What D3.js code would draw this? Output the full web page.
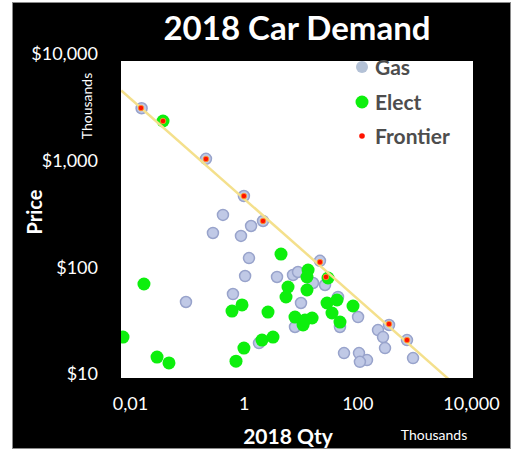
<!DOCTYPE html>
<html>
<head>
<meta charset="utf-8">
<script src="https://cdn.jsdelivr.net/npm/d3@7"></script>
<style>
  html, body { margin: 0; padding: 0; background: #fff; }
  svg { display: block; }
  text { font-family: Lato, "Open Sans", sans-serif; }
</style>
</head>
<body>
<svg id="chart" width="521" height="452"></svg>
<script>
// 2018 car demand: quantity sold (thousands) vs price (thousands of $), log-log
const gasQty   = [0.016, 0.217, 1.01, 2.19, 0.432, 0.288, 1.35, 0.897, 1.24, 1.06, 0.648, 0.0966,
                  3.86, 7.38, 9.04, 16.6, 22.0, 10.2, 8.0, 1.86, 45.7, 103, 49.5, 231, 283, 307,
                  58.3, 107, 148, 111, 955, 361, 748, 27.0];
const gasPrice = [3100, 1040, 466, 272, 310, 210, 244, 197, 122, 82.9, 56.2, 47.3,
                  81.2, 84.8, 90.4, 71.3, 115, 46.3, 27.6, 19.5, 52.7, 34.2, 27.6, 25.8, 22.2, 17.5,
                  15.7, 15.7, 13.5, 13.0, 14.1, 28.8, 20.8, 68.3];

const electQty   = [0.0381, 0.00753, 0.0176, 0.0299, 0.0485, 0.624, 0.935, 1.01, 0.733, 2.10, 2.68,
                    3.28, 4.54, 6.03, 5.56, 13.6, 13.0, 30.5, 13.0, 29.3, 43.9, 84.0, 35.8, 49.5,
                    8.0, 11.1, 16.0, 12.0];
const electPrice = [2355, 22.2, 69.8, 14.4, 12.7, 38.9, 44.4, 17.5, 13.2, 20.8, 38.1,
                    22.2, 133, 65.4, 52.7, 94.4, 81.2, 79.4, 61.3, 46.3, 49.4, 43.4, 37.3, 30.7,
                    34.2, 28.8, 33.5, 32.1];

const frontierQty   = [0.0156, 0.0381, 0.217, 1.01, 2.19, 22.0, 28.1, 361, 748];
const frontierPrice = [3118, 2355, 1037, 466, 272, 112, 81.2, 29.4, 20.8];

// fitted demand frontier (power law), end points
const fitQty   = [0.007, 4000];
const fitPrice = [4550, 9];

const xTicks = [0.01, 1, 100, 10000];
const xTickLabels = ["0,01", "1", "100", "10,000"];
const yTicks = [10, 100, 1000, 10000];
const yTickLabels = ["$10", "$100", "$1,000", "$10,000"];

const legendNames = ["Gas", "Elect", "Frontier"];

const svg = d3.select("#chart");

// dark frame
svg.append("rect")
  .attr("x", 12.5).attr("y", 2.5).attr("width", 498).attr("height", 446)
  .attr("fill", "#000").attr("stroke", "#8a8a8a").attr("stroke-width", 1);

// plot panel
const panel = { left: 121, top: 61, right: 473, bottom: 378 };
svg.append("rect")
  .attr("x", panel.left).attr("y", panel.top)
  .attr("width", panel.right - panel.left).attr("height", panel.bottom - panel.top)
  .attr("fill", "#fff");

const x = d3.scaleLog().domain([0.01, 10000]).range([130, 471]);
const y = d3.scaleLog().domain([10, 10000]).range([374, 54]);

svg.append("clipPath").attr("id", "clip")
  .append("rect")
  .attr("x", panel.left).attr("y", panel.top)
  .attr("width", panel.right - panel.left).attr("height", panel.bottom - panel.top);

const plot = svg.append("g").attr("clip-path", "url(#clip)");

const gas = gasQty.map((q, i) => ({ q, p: gasPrice[i] }));
const elect = electQty.map((q, i) => ({ q, p: electPrice[i] }));
const frontier = frontierQty.map((q, i) => ({ q, p: frontierPrice[i] }));
const fit = fitQty.map((q, i) => ({ q, p: fitPrice[i] }));

plot.append("g").selectAll("circle").data(gas).join("circle")
  .attr("cx", d => x(d.q)).attr("cy", d => y(d.p)).attr("r", 5.5)
  .attr("fill", "#c0c9e6").attr("stroke", "#98a3cb").attr("stroke-width", 1.5);

plot.append("g").selectAll("circle").data(elect).join("circle")
  .attr("cx", d => x(d.q)).attr("cy", d => y(d.p)).attr("r", 6.5)
  .attr("fill", "#0def0d");

plot.append("path")
  .datum(fit)
  .attr("d", d3.line().x(d => x(d.q)).y(d => y(d.p)))
  .attr("fill", "none").attr("stroke", "#f4e08c").attr("stroke-width", 2.5);

plot.append("g").selectAll("circle").data(frontier).join("circle")
  .attr("cx", d => x(d.q)).attr("cy", d => y(d.p)).attr("r", 2.8)
  .attr("fill", "#ff1200").attr("stroke", "#ffa530").attr("stroke-width", 0.8);

// axes
const xAxis = svg.append("g")
  .attr("transform", `translate(0,${panel.bottom})`)
  .call(d3.axisBottom(x).tickValues(xTicks).tickFormat((d, i) => xTickLabels[i])
    .tickSize(0).tickPadding(19));
const yAxis = svg.append("g")
  .attr("transform", `translate(${panel.left},0)`)
  .call(d3.axisLeft(y).tickValues(yTicks).tickFormat((d, i) => yTickLabels[i])
    .tickSize(0).tickPadding(23));
[xAxis, yAxis].forEach(g => {
  g.select(".domain").remove();
  g.selectAll("text").attr("fill", "#fff").attr("font-size", 18)
    .attr("font-family", "Lato, sans-serif");
});

// titles
svg.append("text").attr("x", 297).attr("y", 40).attr("text-anchor", "middle")
  .attr("fill", "#fff").attr("font-size", 33).attr("font-weight", "bold")
  .text("2018 Car Demand");

svg.append("text").attr("transform", "translate(42,212) rotate(-90)")
  .attr("text-anchor", "middle").attr("fill", "#fff")
  .attr("font-size", 20).attr("font-weight", "bold").text("Price");

svg.append("text").attr("transform", "translate(92,106) rotate(-90)")
  .attr("text-anchor", "middle").attr("fill", "#fff")
  .attr("font-size", 14).text("Thousands");

svg.append("text").attr("x", 288).attr("y", 444).attr("text-anchor", "middle")
  .attr("fill", "#fff").attr("font-size", 21).attr("font-weight", "bold")
  .text("2018 Qty");

svg.append("text").attr("x", 434).attr("y", 440).attr("text-anchor", "middle")
  .attr("fill", "#fff").attr("font-size", 14).text("Thousands");

// legend
const legend = svg.append("g");
const legY = [67, 102, 136];
legendNames.forEach((name, i) => {
  const g = legend.append("g").attr("transform", `translate(362,${legY[i]})`);
  if (i === 0) g.append("circle").attr("r", 6).attr("fill", "#b3c1d6");
  if (i === 1) g.append("circle").attr("r", 6.5).attr("fill", "#0def0d");
  if (i === 2) g.append("circle").attr("r", 2.8).attr("fill", "#ff1200");
  g.append("text").attr("x", 13).attr("dy", "0.36em")
    .attr("fill", "#4d4d4d").attr("font-size", 21).attr("font-weight", "bold")
    .text(name);
});
</script>
</body>
</html>
